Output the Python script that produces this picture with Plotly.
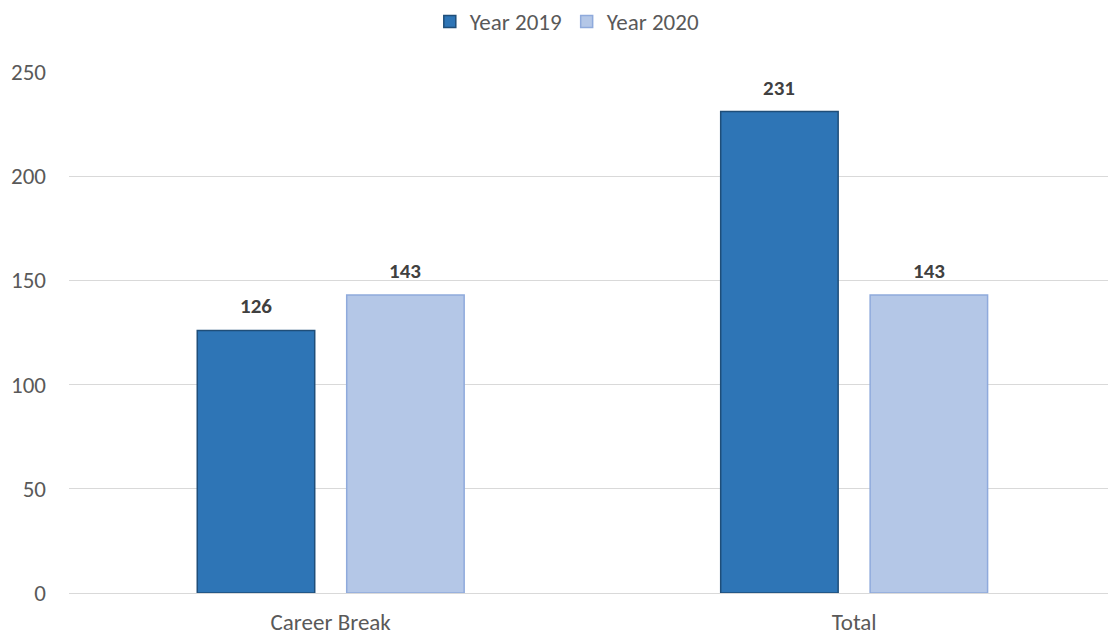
import plotly.graph_objects as go

categories = ["Career Break", "Total"]
year_2019 = [126, 231]
year_2020 = [143, 143]
series_names = ["Year 2019", "Year 2020"]
y_ticks = [0, 50, 100, 150, 200, 250]

fill_2019 = "#2E75B6"
edge_2019 = "#1F4E79"
fill_2020 = "#B4C7E7"
edge_2020 = "#8FAADC"
text_grey = "#595959"
label_grey = "#404040"
font_family = "Carlito, Calibri, Lato, 'Open Sans', sans-serif"

fig = go.Figure()
fig.add_trace(go.Bar(
    x=categories, y=year_2019, name=series_names[0],
    marker=dict(color=fill_2019, line=dict(color=edge_2019, width=1.5)),
))
fig.add_trace(go.Bar(
    x=categories, y=year_2020, name=series_names[1],
    marker=dict(color=fill_2020, line=dict(color=edge_2020, width=1.5)),
))

# value labels above each bar, centred on each bar's slot within the group
slot = (1 - 0.429) / 2
for i, cat in enumerate(categories):
    for j, vals in enumerate([year_2019, year_2020]):
        offset = (j - 0.5) * slot
        fig.add_annotation(
            x=i + offset, y=vals[i], xref="x", yref="y",
            text=f"<b>{vals[i]}</b>", showarrow=False,
            yanchor="bottom", yshift=9,
            font=dict(size=21, color=label_grey, family=font_family),
        )

fig.update_layout(
    width=1108, height=640,
    margin=dict(l=69, r=0, t=72, b=47),
    paper_bgcolor="white", plot_bgcolor="white",
    barmode="group", bargap=0.429, bargroupgap=0.214,
    font=dict(family=font_family, size=24, color=text_grey),
    showlegend=True,
    legend=dict(
        orientation="h", xref="container", yref="container",
        x=0.512, y=1.0, xanchor="center", yanchor="top",
        font=dict(size=23, color=text_grey), itemwidth=30,
        traceorder="normal",
    ),
    xaxis=dict(
        type="category", range=[-0.5, 1.485],
        showgrid=False, showline=False, ticks="",
        ticklabelstandoff=13,
        tickfont=dict(size=23, color=text_grey),
    ),
    yaxis=dict(
        range=[0, 250], tickvals=y_ticks,
        showgrid=True, gridcolor="#D9D9D9", gridwidth=1.3,
        zeroline=True, zerolinecolor="#D9D9D9", zerolinewidth=1.3,
        showline=False, ticks="", ticklabelstandoff=22,
        tickfont=dict(size=23, color=text_grey),
    ),
)

fig.write_html("out.html")
